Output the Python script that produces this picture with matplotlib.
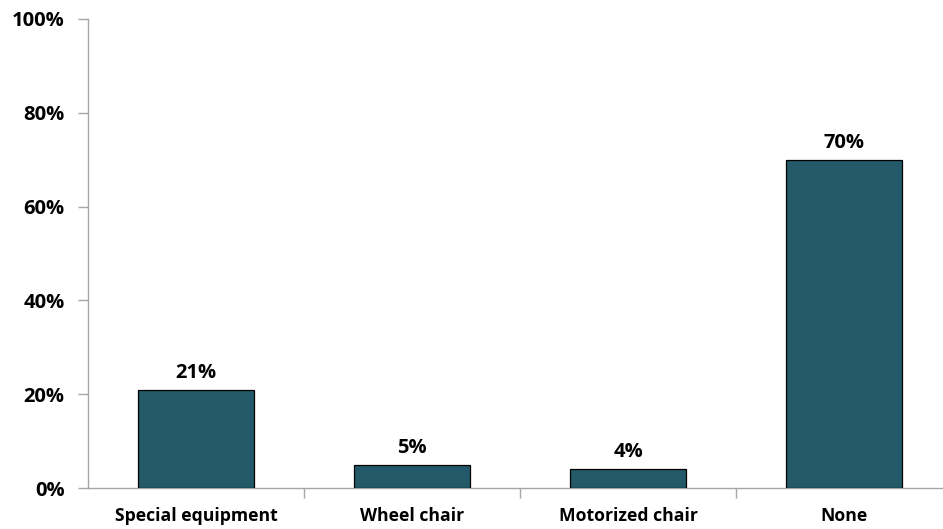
import matplotlib.pyplot as plt
from matplotlib.ticker import FixedLocator

categories = ['Special equipment', 'Wheel chair', 'Motorized chair', 'None']
shares = [21, 5, 4, 70]
y_ticks = [0, 20, 40, 60, 80, 100]

plt.rcParams['font.family'] = ['Open Sans', 'DejaVu Sans']
plt.rcParams['font.weight'] = 'bold'

W, H = 943, 529
fig = plt.figure(figsize=(W / 100, H / 100), dpi=100)
left, right, bottom, top = 88, 952, 488, 19
ax = fig.add_axes([left / W, (H - bottom) / H, (right - left) / W, (bottom - top) / H])

x = range(len(categories))
ax.bar(x, shares, width=0.537, color='#235968', edgecolor='black', linewidth=0.9, zorder=3)

for xi, v in zip(x, shares):
    ax.annotate(f'{v}%', (xi, v), textcoords='offset points', xytext=(0, 5),
                ha='center', va='bottom', fontsize=14.5, fontweight='bold')

ax.set_xlim(-0.5, len(categories) - 0.5)
ax.set_ylim(0, 100)
ax.set_yticks(y_ticks)
ax.set_yticklabels([f'{t}%' for t in y_ticks], fontsize=14.5, fontweight='bold')

ax.set_xticks(list(x))
ax.set_xticklabels(categories, fontsize=12.7, fontweight='bold')
ax.tick_params(axis='x', which='major', length=0, pad=14)
ax.xaxis.set_minor_locator(FixedLocator([0.5, 1.5, 2.5]))
ax.tick_params(axis='x', which='minor', length=7, width=1, color='#a6a6a6', direction='out')
ax.tick_params(axis='y', length=7, width=1, color='#a6a6a6', direction='out', pad=10)

for side in ['top', 'right']:
    ax.spines[side].set_visible(False)
for side in ['left', 'bottom']:
    ax.spines[side].set_color('#a6a6a6')
    ax.spines[side].set_linewidth(1)

fig.savefig('out.png', dpi=100)
